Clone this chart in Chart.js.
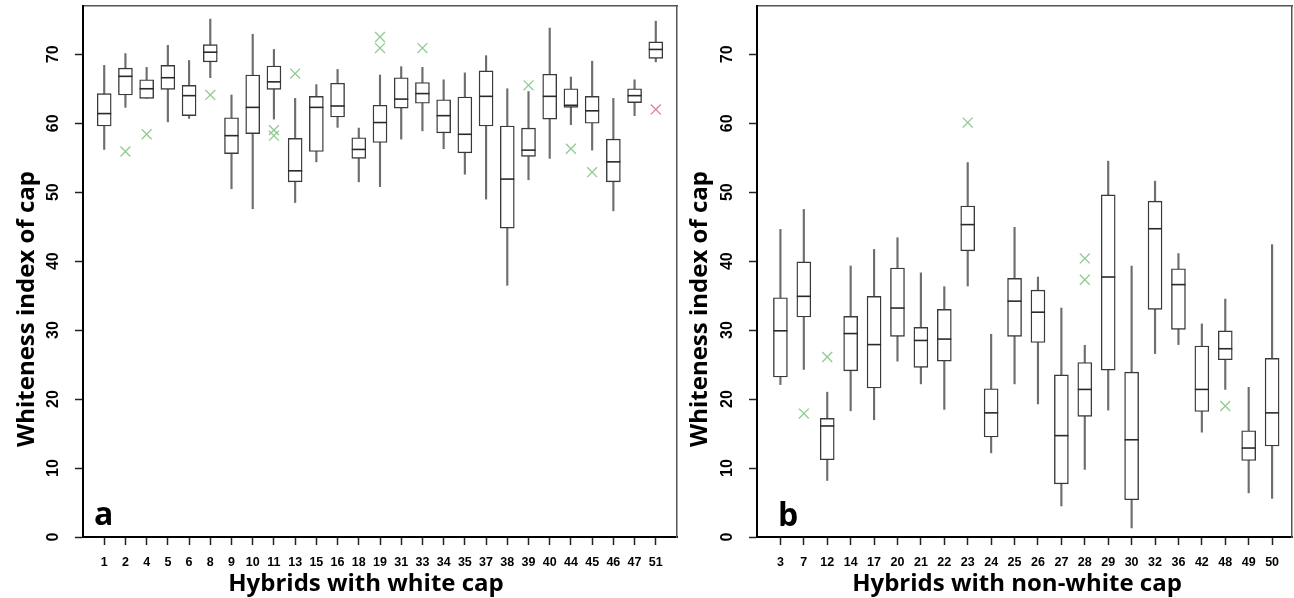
<!DOCTYPE html>
<html><head><meta charset="utf-8">
<script src="https://cdn.jsdelivr.net/npm/chart.js@4.4.1/dist/chart.umd.min.js"></script>
<style>
html,body{margin:0;padding:0;background:#fff;}
#wrap{position:relative;width:1294px;height:598px;overflow:hidden;background:#fff;}
.pane{position:absolute;top:0;height:598px;}
</style></head><body>
<div id="wrap">
  <div class="pane" style="left:0;width:680px"><canvas id="c1" width="680" height="598"></canvas></div>
  <div class="pane" style="left:680px;width:614px"><canvas id="c2" width="614" height="598"></canvas></div>
</div>
<script>
// ---------- data: panel a (white cap) ----------
const whiteLabels = ['1','2','4','5','6','8','9','10','11','13','15','16','18','19','31','33','34','35','37','38','39','40','44','45','46','47','51'];
const whiteMin = [56.2,62.3,63.6,60.2,60.7,66.6,50.5,47.6,60.6,48.5,54.4,59.4,51.5,50.8,57.7,58.9,56.3,52.6,49.0,36.5,51.8,54.9,59.8,56.1,47.3,61.1,68.9];
const whiteQ1  = [59.6,64.1,63.6,64.9,61.1,68.9,55.6,58.5,64.9,51.5,55.9,60.9,54.9,57.2,62.2,62.9,58.6,55.7,59.6,44.8,55.2,60.6,62.3,60.0,51.5,63.0,69.4];
const whiteMed = [61.4,66.8,65.0,66.6,64.0,70.3,58.2,62.3,66.0,53.1,62.3,62.5,56.2,60.1,63.5,64.3,61.1,58.4,63.9,51.9,56.1,63.9,62.6,61.8,54.4,64.0,70.7];
const whiteQ3  = [64.3,68.0,66.3,68.4,65.5,71.4,60.8,67.0,68.3,57.8,63.9,65.8,57.9,62.6,66.6,65.9,63.4,63.8,67.6,59.6,59.3,67.1,65.0,63.9,57.7,65.0,71.8];
const whiteMax = [68.4,70.1,68.1,71.3,69.1,75.1,64.1,72.9,70.7,63.6,65.6,67.8,59.3,67.0,68.2,68.1,66.3,67.3,69.8,65.0,64.6,73.8,66.7,69.0,63.6,66.3,74.8];
const whiteOutCats = ['2','4','8','11','11','13','19','19','33','39','44','45'];
const whiteOutVals = [55.9,58.4,64.1,59.0,58.2,67.2,72.5,70.9,70.9,65.5,56.3,52.9];
const whiteRedCats = ['51'];
const whiteRedVals = [62.0];

// ---------- data: panel b (non-white cap) ----------
const colorLabels = ['3','7','12','14','17','20','21','22','23','24','25','26','27','28','29','30','32','36','42','48','49','50'];
const colorMin = [22.1,24.3,8.2,18.3,17.0,25.5,22.2,18.5,36.4,12.2,22.2,19.3,4.5,9.8,18.4,1.3,26.6,27.9,15.2,21.4,6.4,5.6];
const colorQ1  = [23.2,31.9,11.2,24.1,21.6,29.1,24.6,25.5,41.5,14.5,29.1,28.2,7.7,17.5,24.2,5.4,33.0,30.1,18.2,25.7,11.1,13.2];
const colorMed = [29.9,34.9,16.1,29.5,27.9,33.2,28.5,28.7,45.3,18.0,34.2,32.6,14.7,21.4,37.7,14.1,44.7,36.6,21.4,27.3,12.9,18.0];
const colorQ3  = [34.7,39.9,17.2,32.0,34.9,39.0,30.4,33.0,48.0,21.5,37.5,35.8,23.5,25.3,49.6,23.9,48.7,38.9,27.7,29.9,15.4,25.9];
const colorMax = [44.6,47.5,21.0,39.3,41.7,43.4,38.3,36.3,54.3,29.4,44.9,37.7,33.2,27.8,54.5,39.3,51.6,41.1,30.9,34.5,21.7,42.4];
const colorOutCats = ['7','12','23','28','28','48'];
const colorOutVals = [17.9,26.1,60.1,40.4,37.3,19.0];

// ---------- shared axis ----------
const yTicks = [0,10,20,30,40,50,60,70];
const yMin = 0, yMax = 77;

const panelText = {
  id: 'panelText',
  afterDraw(chart, args, o) {
    const ctx = chart.ctx;
    ctx.save();
    ctx.fillStyle = '#000';
    ctx.textBaseline = 'alphabetic';
    ctx.font = '700 24px "Open Sans"';
    ctx.textAlign = 'center';
    ctx.fillText(o.xTitle, o.xTitleX, o.xTitleY);
    ctx.save();
    ctx.translate(o.yTitleX, o.yTitleY);
    ctx.rotate(-Math.PI / 2);
    ctx.textAlign = 'left';
    ctx.fillText(o.yTitle, 0, 0);
    ctx.restore();
    ctx.font = '700 32px "Open Sans"';
    ctx.textAlign = 'left';
    ctx.fillText(o.letter, o.letterX, o.letterY);
    ctx.restore();
  }
};

function noPad(s) { s.paddingTop = 0; s.paddingBottom = 0; s.paddingLeft = 0; s.paddingRight = 0; }

function makeChart(id, p) {
  const idx = p.labels.map((_, i) => i + 1);
  const pos = c => p.labels.indexOf(c) + 1;
  const whiskers = idx.map((x, i) => ({x, y: [p.min[i], p.max[i]]}));
  const boxes = idx.map((x, i) => ({x, y: [p.q1[i], p.q3[i]]}));
  const medians = idx.map((x, i) => ({x, y: p.med[i]}));
  const outs = p.outCats.map((c, i) => ({x: pos(c), y: p.outVals[i]}));
  const reds = p.redCats.map((c, i) => ({x: pos(c), y: p.redVals[i]}));
  const tickFont = {family: '"Liberation Sans", Arial, sans-serif', weight: 'bold', size: 12.5};
  const yFont = {family: '"Liberation Sans", Arial, sans-serif', weight: 'bold', size: 16};
  return new Chart(document.getElementById(id), {
    type: 'bar',
    data: {
      datasets: [
        {type: 'bar', data: whiskers, backgroundColor: '#6e6e6e', borderWidth: 0, barThickness: 1.5, grouped: false, order: 3},
        {type: 'bar', data: boxes, backgroundColor: '#ffffff', borderColor: '#3a3a3a', borderWidth: 1.4, borderSkipped: false, barThickness: 14, grouped: false, order: 2},
        {type: 'line', data: medians, showLine: false, pointStyle: 'line', pointRadius: 7, pointBorderWidth: 1.6, pointBorderColor: '#2a2a2a', pointBackgroundColor: '#2a2a2a', order: 1},
        {type: 'line', data: outs, showLine: false, pointStyle: 'crossRot', pointRadius: 7, pointBorderWidth: 1.3, pointBorderColor: '#8fcb8f', pointBackgroundColor: '#8fcb8f', order: 0},
        {type: 'line', data: reds, showLine: false, pointStyle: 'crossRot', pointRadius: 7, pointBorderWidth: 1.3, pointBorderColor: '#dc8090', pointBackgroundColor: '#dc8090', order: 0}
      ]
    },
    options: {
      responsive: false,
      animation: false,
      devicePixelRatio: 1,
      layout: {padding: 0, autoPadding: false},
      plugins: {legend: {display: false}, tooltip: {enabled: false}, panelText: p.text},
      scales: {
        x: {
          type: 'linear', position: 'bottom', min: 0, max: p.xMax, offset: false,
          afterBuildTicks: s => { s.ticks = idx.map(v => ({value: v})); },
          afterFit: s => { s.height = 61; noPad(s); },
          ticks: {autoSkip: false, maxRotation: 0, minRotation: 0, padding: 10, color: '#000', font: tickFont,
                  callback: (v, i) => p.labels[i]},
          grid: {display: true, drawOnChartArea: false, drawTicks: true, tickLength: 8, tickWidth: 1.5, tickColor: '#222', offset: false},
          border: {display: true, color: '#000', width: 2}
        },
        xt: {
          type: 'linear', position: 'top', min: 0, max: p.xMax,
          ticks: {display: false}, grid: {display: true, drawOnChartArea: false, drawTicks: false},
          border: {display: true, color: '#555', width: 1.5},
          afterFit: s => { s.height = 6; noPad(s); }
        },
        y: {
          type: 'linear', position: 'left', min: yMin, max: yMax,
          afterBuildTicks: s => { s.ticks = yTicks.map(v => ({value: v})); },
          afterFit: s => { s.width = p.yWidth; noPad(s); },
          ticks: {minRotation: 90, maxRotation: 90, crossAlign: 'center', padding: 13, color: '#000', font: yFont},
          grid: {display: true, drawOnChartArea: false, drawTicks: true, tickLength: 8, tickWidth: 1.5, tickColor: '#222'},
          border: {display: true, color: '#000', width: 2}
        },
        yr: {
          type: 'linear', position: 'right', min: yMin, max: yMax,
          ticks: {display: false}, grid: {display: true, drawOnChartArea: false, drawTicks: false},
          border: {display: true, color: '#555', width: 1.5},
          afterFit: s => { s.width = p.rWidth; noPad(s); }
        }
      }
    },
    plugins: [panelText]
  });
}

makeChart('c1', {
  labels: whiteLabels, min: whiteMin, q1: whiteQ1, med: whiteMed, q3: whiteQ3, max: whiteMax,
  outCats: whiteOutCats, outVals: whiteOutVals, redCats: whiteRedCats, redVals: whiteRedVals,
  xMax: 28, yWidth: 83, rWidth: 3,
  text: {xTitle: 'Hybrids with white cap', xTitleX: 366, xTitleY: 591,
         yTitle: 'Whiteness index of cap', yTitleX: 34, yTitleY: 447,
         letter: 'a', letterX: 94, letterY: 525}
});
makeChart('c2', {
  labels: colorLabels, min: colorMin, q1: colorQ1, med: colorMed, q3: colorQ3, max: colorMax,
  outCats: colorOutCats, outVals: colorOutVals, redCats: [], redVals: [],
  xMax: 22.85, yWidth: 77, rWidth: 2,
  text: {xTitle: 'Hybrids with non-white cap', xTitleX: 337, xTitleY: 591,
         yTitle: 'Whiteness index of cap', yTitleX: 27, yTitleY: 447,
         letter: 'b', letterX: 98, letterY: 526}
});
</script>
</body></html>
